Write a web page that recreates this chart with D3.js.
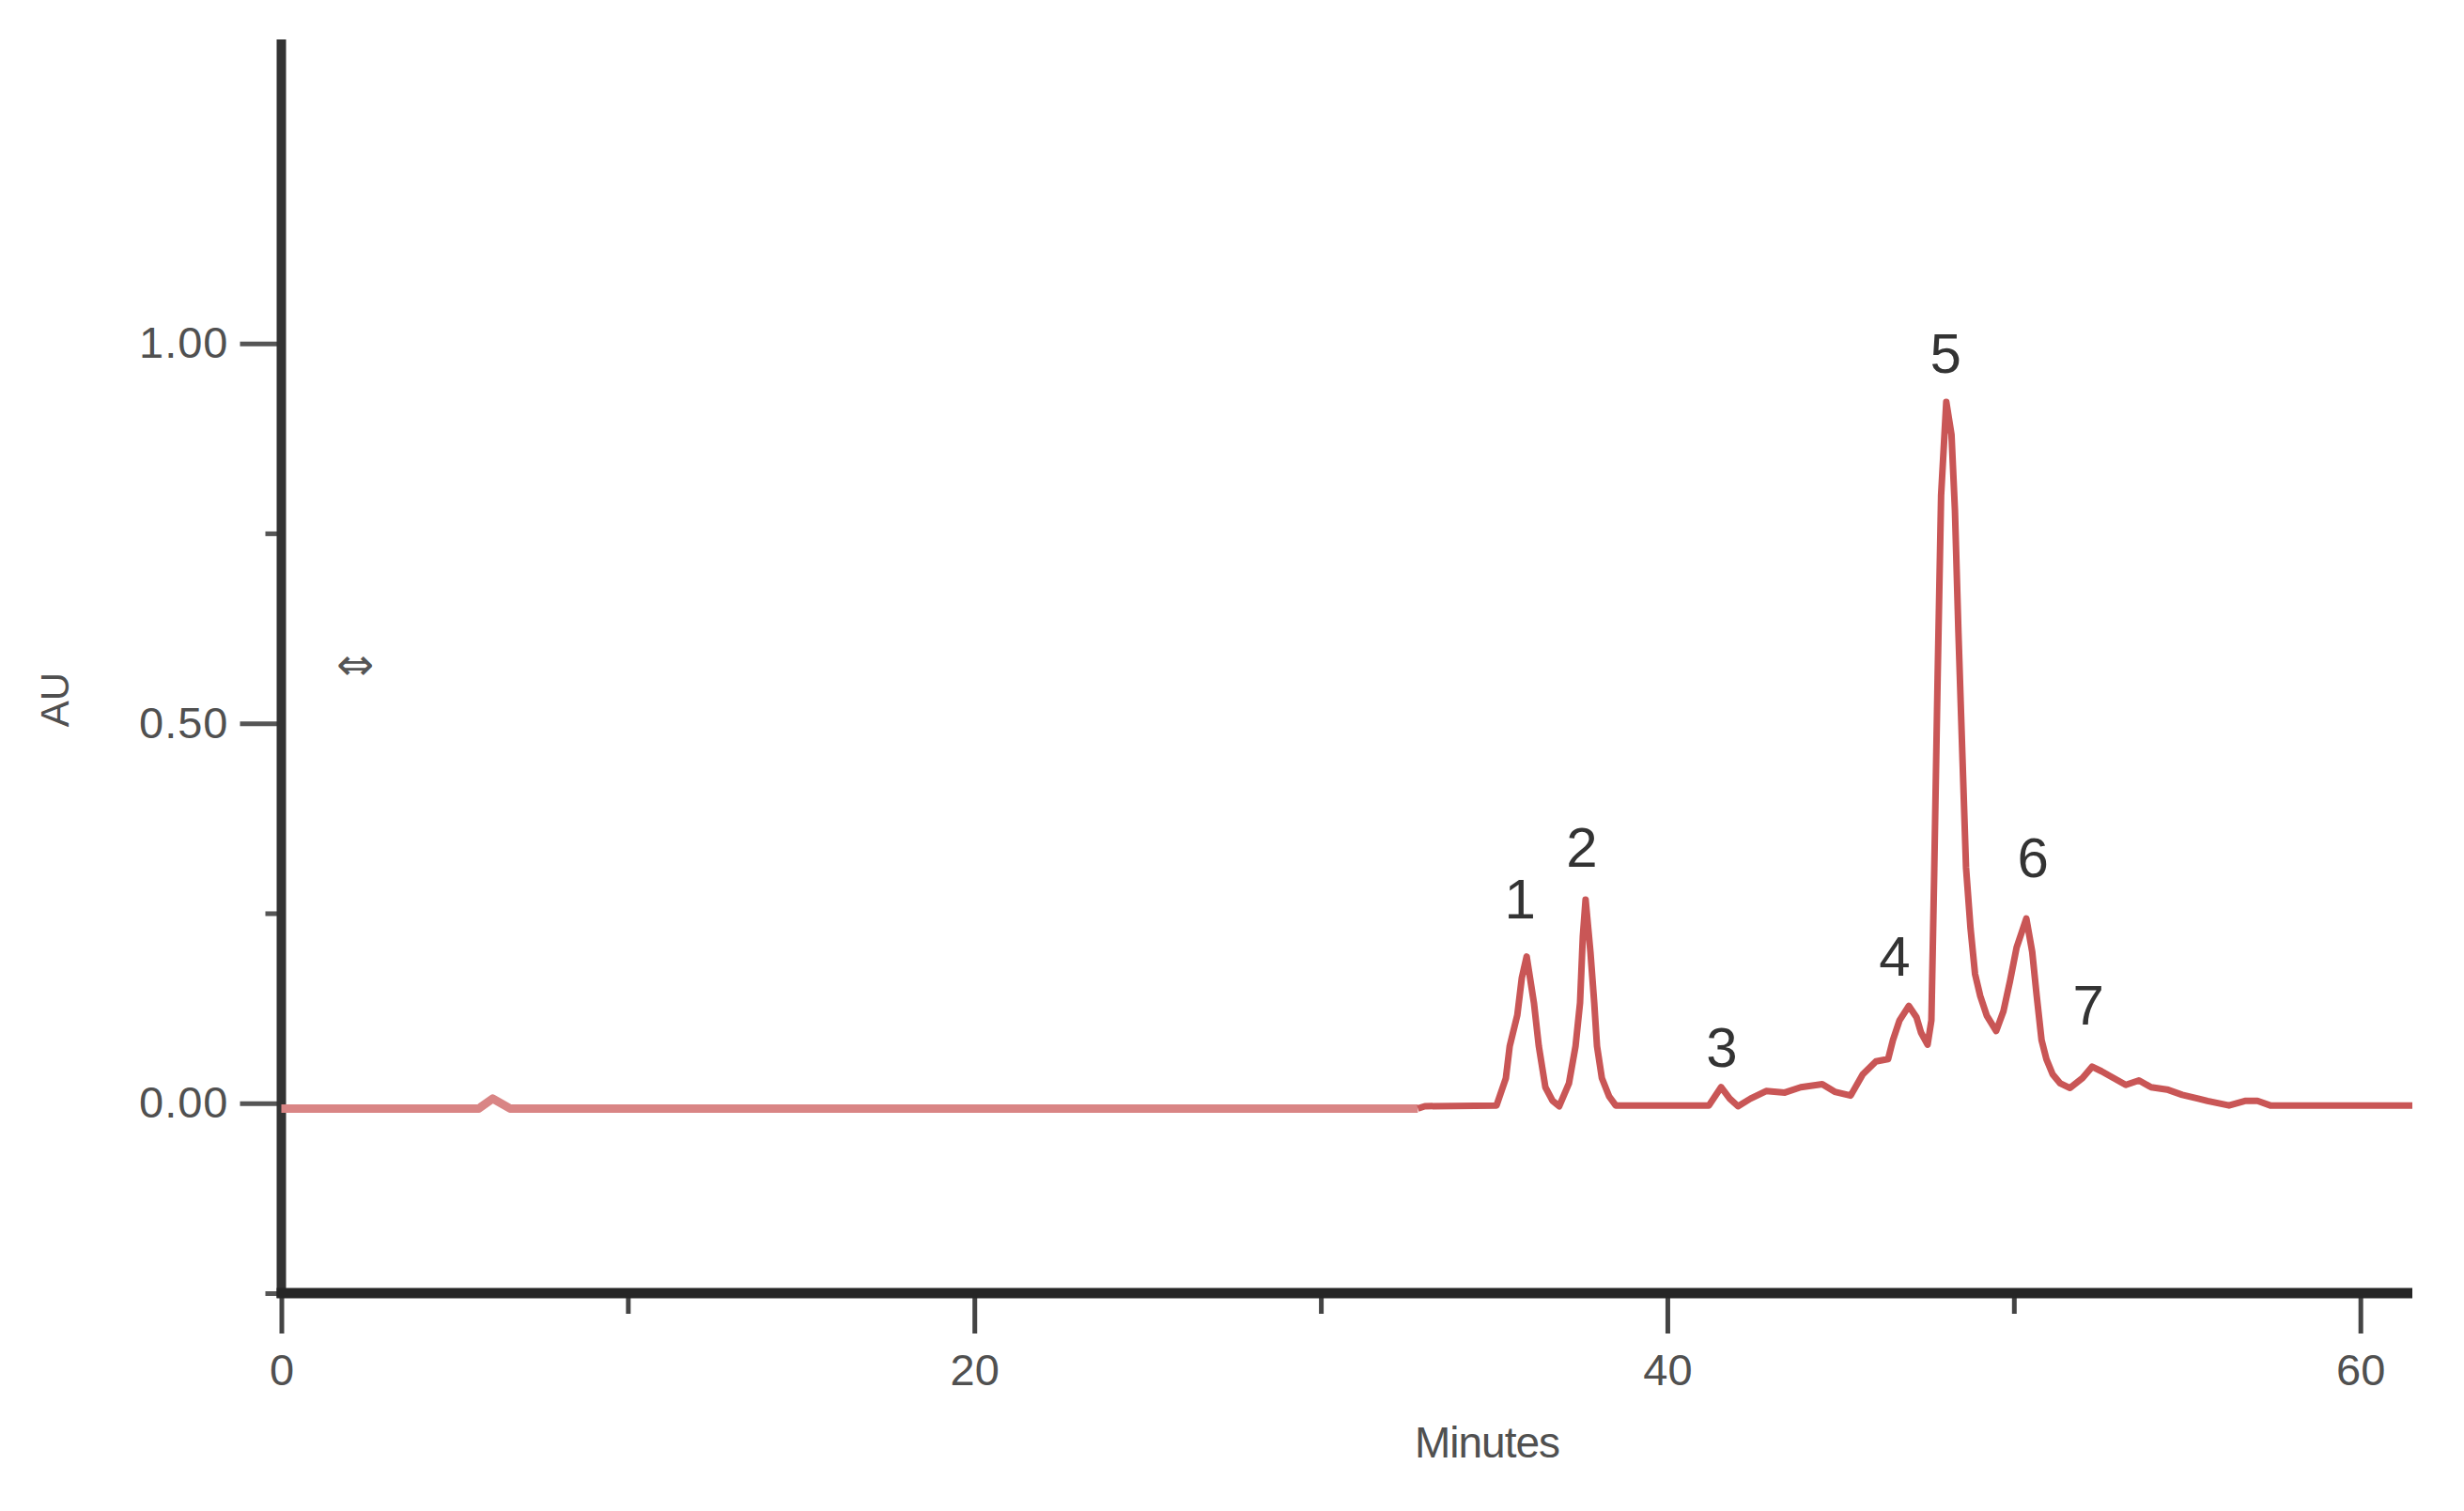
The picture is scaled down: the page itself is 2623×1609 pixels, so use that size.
<!DOCTYPE html>
<html>
<head>
<meta charset="utf-8">
<script src="https://cdn.jsdelivr.net/npm/d3@7"></script>
<style>
  html, body { margin: 0; padding: 0; background: #ffffff; }
  svg { display: block; }
</style>
</head>
<body>
<svg id="chart" width="2623" height="1609"></svg>
<script>
// ---------- data ----------
const timeMin = [0, 5.7, 6.1, 6.6, 32.8, 33.0, 35.07, 35.34, 35.45, 35.67, 35.80, 35.94, 36.15, 36.29, 36.48, 36.69, 36.88,
  37.16, 37.35, 37.48, 37.56, 37.64, 37.78, 37.89, 37.97, 38.11, 38.32, 38.51, 41.2, 41.55, 41.8, 42.04, 42.4, 42.85,
  43.39, 43.85, 44.47, 44.83, 45.29, 45.64, 46.02, 46.37, 46.51, 46.70, 46.97, 47.19, 47.32, 47.51, 47.62, 47.70, 47.80,
  47.90, 48.05, 48.20, 48.30, 48.40, 48.52, 48.62, 48.75, 48.88, 49.03, 49.22, 49.49, 49.70, 49.89, 50.08, 50.36, 50.53,
  50.66, 50.80, 50.94, 51.12, 51.34, 51.62, 51.98, 52.26, 52.53, 52.88, 53.23, 53.61, 53.96, 54.42, 54.86, 55.32, 55.59,
  56.21, 56.67, 57.03, 57.40, 61.5];
const absorbanceAU = [-0.007, -0.007, 0.006, -0.007, -0.007, -0.004, -0.003, 0.033, 0.075, 0.116, 0.165, 0.193, 0.132, 0.075,
  0.021, 0.003, -0.004, 0.026, 0.075, 0.132, 0.219, 0.268, 0.199, 0.132, 0.075, 0.033, 0.009, -0.003, -0.003, 0.021, 0.006,
  -0.004, 0.006, 0.016, 0.014, 0.021, 0.025, 0.015, 0.010, 0.038, 0.055, 0.058, 0.083, 0.109, 0.128, 0.113, 0.093, 0.077,
  0.109, 0.300, 0.560, 0.800, 0.923, 0.880, 0.780, 0.620, 0.450, 0.310, 0.230, 0.170, 0.141, 0.115, 0.095, 0.121, 0.161,
  0.205, 0.243, 0.199, 0.141, 0.083, 0.058, 0.038, 0.026, 0.020, 0.033, 0.048, 0.042, 0.033, 0.024, 0.030, 0.021, 0.018,
  0.011, 0.006, 0.003, -0.003, 0.003, 0.003, -0.003, -0.003];

const peakLabels = ["1", "2", "3", "4", "5", "6", "7"];
const peakLabelTime = [35.75, 37.53, 41.57, 46.56, 48.03, 50.55, 52.15];
const peakLabelAU = [0.268, 0.336, 0.073, 0.193, 0.986, 0.323, 0.129];

const xMajorTicks = [0, 20, 40, 60];
const xMinorTicks = [10, 30, 50];
const yMajorTicks = [0, 0.5, 1.0];
const yMajorLabels = ["0.00", "0.50", "1.00"];
const yMinorTicks = [-0.25, 0.25, 0.75];

const xTitle = "Minutes";
const yTitle = "AU";
const markerGlyph = "\u21D4";

// ---------- layout ----------
const svg = d3.select("#chart");
const x = d3.scaleLinear().domain([0, 61.5]).range([299.5, 2568]);
const y = d3.scaleLinear().domain([-0.25, 1.4]).range([1377, 42]);

const tickColor = "#333";
const labelFont = "'Liberation Sans', Arial, sans-serif";

// y axis (major)
const yAxisMajor = d3.axisLeft(y).tickValues(yMajorTicks)
  .tickFormat((d, i) => yMajorLabels[i]).tickSize(44).tickSizeOuter(0).tickPadding(12);
const gy = svg.append("g").attr("transform", `translate(${x(0)},0)`).call(yAxisMajor);
gy.select(".domain").remove();
gy.selectAll(".tick line").attr("stroke", "#555").attr("stroke-width", 5);
gy.selectAll(".tick text").attr("fill", "#505050").style("font-family", labelFont).style("font-size", "47px")
  .style("letter-spacing", "1px");

// y axis (minor)
const yAxisMinor = d3.axisLeft(y).tickValues(yMinorTicks).tickFormat("").tickSize(17).tickSizeOuter(0);
const gy2 = svg.append("g").attr("transform", `translate(${x(0)},0)`).call(yAxisMinor);
gy2.select(".domain").remove();
gy2.selectAll(".tick line").attr("stroke", "#555").attr("stroke-width", 5);

// x axis (major)
const xAxisMajor = d3.axisBottom(x).tickValues(xMajorTicks).tickFormat(d3.format("d"))
  .tickSize(43).tickSizeOuter(0).tickPadding(22);
const gx = svg.append("g").attr("transform", `translate(0,${y(-0.25)})`).call(xAxisMajor);
gx.select(".domain").remove();
gx.selectAll(".tick line").attr("stroke", "#444").attr("stroke-width", 5);
gx.selectAll(".tick text").attr("fill", "#505050").style("font-family", labelFont).style("font-size", "47px");

// x axis (minor)
const xAxisMinor = d3.axisBottom(x).tickValues(xMinorTicks).tickFormat("").tickSize(22).tickSizeOuter(0);
const gx2 = svg.append("g").attr("transform", `translate(0,${y(-0.25)})`).call(xAxisMinor);
gx2.select(".domain").remove();
gx2.selectAll(".tick line").attr("stroke", "#444").attr("stroke-width", 5);

// axis lines
svg.append("line")
  .attr("x1", x(0)).attr("x2", x(0)).attr("y1", y(1.4)).attr("y2", y(-0.25) + 5)
  .attr("stroke", tickColor).attr("stroke-width", 10);
svg.append("line")
  .attr("x1", x(0) - 5).attr("x2", x(61.5)).attr("y1", y(-0.25)).attr("y2", y(-0.25))
  .attr("stroke", "#262626").attr("stroke-width", 11);

// chromatogram
const pts = timeMin.map((t, i) => ({ t, v: absorbanceAU[i] }));
const line = d3.line().x(d => x(d.t)).y(d => y(d.v));
const early = pts.filter(d => d.t <= 32.8);
const late = pts.filter(d => d.t >= 32.8);
svg.append("path").datum(early).attr("d", line)
  .attr("fill", "none").attr("stroke", "#d98585").attr("stroke-width", 9)
  .attr("stroke-linejoin", "round");
svg.append("path").datum(late).attr("d", line)
  .attr("fill", "none").attr("stroke", "#c95656").attr("stroke-width", 7)
  .attr("stroke-linejoin", "round");

// peak labels
svg.append("g").selectAll("text").data(peakLabels).join("text")
  .attr("x", (d, i) => x(peakLabelTime[i]))
  .attr("y", (d, i) => y(peakLabelAU[i]))
  .attr("text-anchor", "middle").attr("dominant-baseline", "central")
  .attr("fill", "#333").style("font-family", labelFont).style("font-size", "60px")
  .text(d => d);

// titles
svg.append("text").attr("x", 1583).attr("y", 1536)
  .attr("text-anchor", "middle").attr("dominant-baseline", "central")
  .attr("fill", "#505050").style("font-family", labelFont).style("font-size", "46px")
  .style("letter-spacing", "-1px").text(xTitle);
svg.append("text").attr("transform", "translate(58,745) rotate(-90)")
  .attr("text-anchor", "middle").attr("dominant-baseline", "central")
  .attr("fill", "#505050").style("font-family", labelFont).style("font-size", "42px")
  .text(yTitle);
svg.append("text").attr("x", 378).attr("y", 707)
  .attr("text-anchor", "middle").attr("dominant-baseline", "central")
  .attr("fill", "#555").style("font-family", "'DejaVu Sans', sans-serif").style("font-size", "48px")
  .text(markerGlyph);
</script>
</body>
</html>
